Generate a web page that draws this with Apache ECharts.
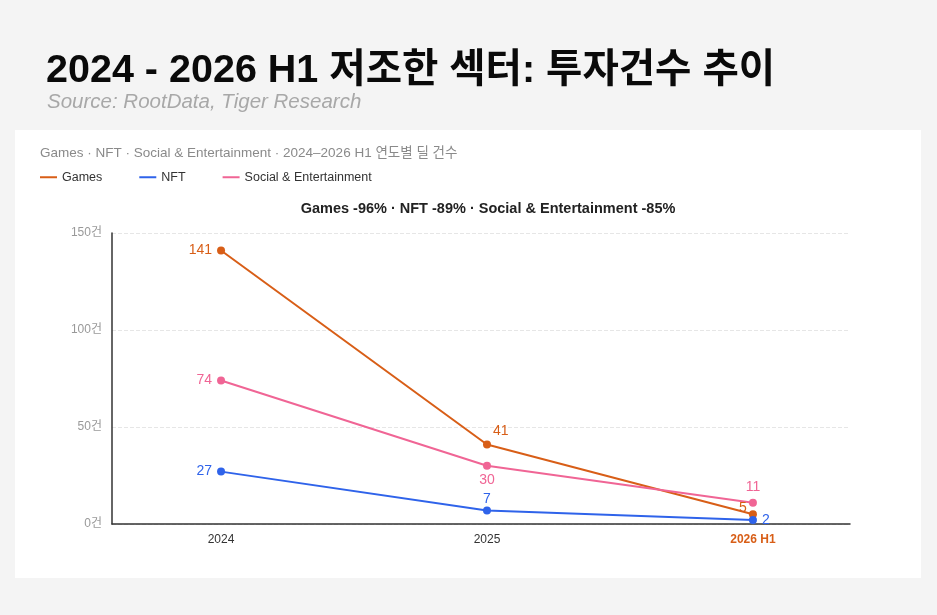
<!DOCTYPE html>
<html>
<head>
<meta charset="utf-8">
<style>
  html, body { margin: 0; padding: 0; background: #f4f4f4; }
  #chart { width: 937px; height: 615px; }
</style>
<script src="https://cdn.jsdelivr.net/npm/echarts@6/dist/echarts.min.js"></script>
</head>
<body>
<div id="chart"></div>
<script>
// 데이터
const categories = ['2024', '2025', '2026 H1'];
const games = [141, 41, 5];
const nft = [27, 7, 2];
const social = [74, 30, 11];
const yTicks = [0, 50, 100, 150];

const FONT = '"Liberation Sans", "Noto Sans CJK KR", sans-serif';
const C_GAMES = '#d85e17';
const C_NFT = '#2f63ea';
const C_SOCIAL = '#f06595';

const chart = echarts.init(document.getElementById('chart'));

// [x인덱스, 값] 형태로 변환 + 포인트별 라벨 위치
function labeled(arr, positions, color) {
  return arr.map((v, i) => ({
    value: [i, v],
    label: { position: positions[i], color: color }
  }));
}

function lineSeries(name, color, data) {
  return {
    name: name, type: 'line', color: color,
    symbol: 'circle', symbolSize: 8,
    lineStyle: { width: 2 },
    label: { show: true, fontSize: 14, distance: 5, formatter: p => p.value[1] },
    data: data
  };
}

const gamesData = labeled(games, ['left', 'top', 'left'], C_GAMES);
gamesData[1].label = { position: [10, -16], color: C_GAMES };
gamesData[2].label = { position: [-10, -9], color: C_GAMES };

const nftData = labeled(nft, ['left', 'top', 'right'], C_NFT);
nftData[1].label.distance = 0;

const socialData = labeled(social, ['left', 'bottom', 'top'], C_SOCIAL);
socialData[1].label.distance = 3;

const option = {
  backgroundColor: '#f4f4f4',
  animation: false,
  textStyle: { fontFamily: FONT },
  graphic: [
    {
      type: 'text', left: 46, top: 51,
      style: { text: '2024 - 2026 H1 저조한 섹터: 투자건수 추이', font: 'bold 39.5px ' + FONT, fill: '#0a0a0a' }
    },
    {
      type: 'text', left: 47, top: 92,
      style: { text: 'Source: RootData, Tiger Research', font: 'italic 20.5px ' + FONT, fill: '#a8a8a8' }
    },
    {
      type: 'rect', left: 15, top: 130, z: -10,
      shape: { width: 906, height: 448 },
      style: { fill: '#ffffff' }
    },
    {
      type: 'text', left: 40, top: 147,
      style: { text: 'Games · NFT · Social & Entertainment · 2024–2026 H1 연도별 딜 건수', font: '13.5px ' + FONT, fill: '#8a8a8a' }
    }
  ],
  title: {
    text: 'Games -96% · NFT -89% · Social & Entertainment -85%',
    left: 483, top: 197, textAlign: 'center',
    textStyle: { fontSize: 14.5, fontWeight: 'bold', color: '#222', fontFamily: FONT }
  },
  legend: {
    left: 35, top: 166,
    itemGap: 37, itemWidth: 17, itemHeight: 2,
    icon: 'rect',
    textStyle: { fontSize: 12.5, color: '#333', fontFamily: FONT },
    data: ['Games', 'NFT', 'Social & Entertainment']
  },
  grid: { left: 112, right: 87, top: 233, bottom: 91 },
  xAxis: {
    type: 'value',
    min: -0.41, max: 2.365,
    splitLine: { show: false },
    axisTick: { show: false },
    axisLine: { show: true, onZero: false, lineStyle: { color: '#333', width: 1.5 } },
    axisLabel: {
      customValues: [0, 1, 2],
      margin: 10,
      fontSize: 12,
      color: '#333',
      formatter: v => {
        const i = Math.round(v);
        if (i === categories.length - 1) return '{hl|' + categories[i] + '}';
        return categories[i] || '';
      },
      rich: { hl: { color: C_GAMES, fontWeight: 'bold', fontSize: 12, fontFamily: FONT } }
    }
  },
  yAxis: {
    type: 'value',
    min: 0, max: 150, interval: 50,
    axisLine: { show: true, onZero: false, lineStyle: { color: '#333', width: 1.5 } },
    axisTick: { show: false },
    axisLabel: {
      fontSize: 12, color: '#999', margin: 10,
      formatter: v => yTicks.includes(v) ? v + '건' : ''
    },
    splitLine: { show: true, lineStyle: { color: '#e6e6e6', type: 'dashed' } }
  },
  series: [
    lineSeries('Games', C_GAMES, gamesData),
    lineSeries('NFT', C_NFT, nftData),
    lineSeries('Social & Entertainment', C_SOCIAL, socialData)
  ]
};

chart.setOption(option);
window.addEventListener('resize', function () { chart.resize(); });
</script>
</body>
</html>
